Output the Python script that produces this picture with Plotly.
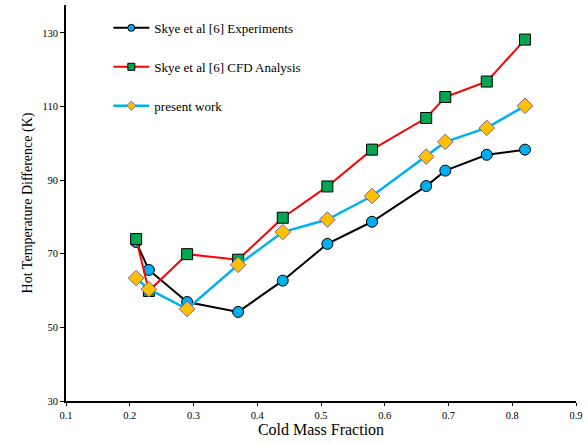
import plotly.graph_objects as go

# Cold mass fraction values shared by all three series
cold_mass_fraction = [0.21, 0.23, 0.29, 0.37, 0.44, 0.51, 0.58, 0.665, 0.695, 0.76, 0.82]

# Hot temperature difference (K)
skye_experiments = [73.2, 65.6, 56.9, 54.2, 62.7, 72.7, 78.7, 88.4, 92.6, 96.9, 98.3]
skye_cfd = [74.0, 59.9, 69.9, 68.4, 79.8, 88.3, 98.3, 106.9, 112.6, 116.8, 128.2]
present_work = [63.4, 60.4, 55.0, 67.0, 75.9, 79.3, 85.7, 96.4, 100.4, 104.2, 110.2]

series_names = ["Skye et al [6] Experiments", "Skye et al [6] CFD Analysis", "present work"]

x_ticks = [0.1, 0.2, 0.3, 0.4, 0.5, 0.6, 0.7, 0.8, 0.9]
y_ticks = [30, 50, 70, 90, 110, 130]

serif = "Liberation Serif, Times New Roman, serif"

styles = [
    dict(line=dict(color="black", width=2),
         symbol="circle", fill="#00AEEF", edge="black", size=11),
    dict(line=dict(color="#FF0000", width=2),
         symbol="square", fill="#00A651", edge="black", size=11),
    dict(line=dict(color="#00B0F0", width=2.5),
         symbol="diamond", fill="#FFC000", edge="#8064A2", size=12),
]

fig = go.Figure()

for name, values, st, grp in zip(series_names,
                                 [skye_experiments, skye_cfd, present_work],
                                 styles, ["a", "b", "c"]):
    # plotted series
    fig.add_trace(go.Scatter(
        x=cold_mass_fraction, y=values, mode="lines+markers",
        name=name, legendgroup=grp, showlegend=False,
        line=st["line"],
        marker=dict(symbol=st["symbol"], size=st["size"], color=st["fill"],
                    line=dict(color=st["edge"], width=1)),
    ))
    # legend entry with a smaller marker
    fig.add_trace(go.Scatter(
        x=[None], y=[None], mode="lines+markers",
        name=name, legendgroup=grp, showlegend=True,
        line=st["line"],
        marker=dict(symbol=st["symbol"], size=7, color=st["fill"],
                    line=dict(color=st["edge"], width=1)),
    ))

fig.update_layout(
    width=588, height=444,
    margin=dict(l=66, r=12, t=5, b=43),
    paper_bgcolor="white", plot_bgcolor="white",
    font=dict(family=serif, color="black", size=11),
    showlegend=True,
    legend=dict(
        x=0.083, y=0.98, xanchor="left", yanchor="top",
        bgcolor="rgba(0,0,0,0)", borderwidth=0,
        font=dict(family=serif, size=13, color="black"),
        tracegroupgap=19, itemwidth=36,
    ),
    xaxis=dict(
        range=[0.1, 0.9], tickmode="array", tickvals=x_ticks,
        ticktext=[f"{v:.1f}" for v in x_ticks],
        showline=True, linecolor="black", linewidth=2,
        ticks="outside", ticklen=3, tickwidth=1, tickcolor="black",
        showgrid=False, zeroline=False,
        tickfont=dict(family=serif, size=10.5),
        title=dict(text="Cold Mass Fraction", font=dict(family=serif, size=16), standoff=4),
    ),
    yaxis=dict(
        range=[30, 137.6], tickmode="array", tickvals=y_ticks,
        showline=True, linecolor="black", linewidth=2,
        ticks="outside", ticklen=4, tickwidth=1, tickcolor="black",
        showgrid=False, zeroline=False,
        tickfont=dict(family=serif, size=10.5),
        title=dict(text="Hot Temperature Difference (K)", font=dict(family=serif, size=14), standoff=6),
    ),
)

fig.write_html("out.html")
